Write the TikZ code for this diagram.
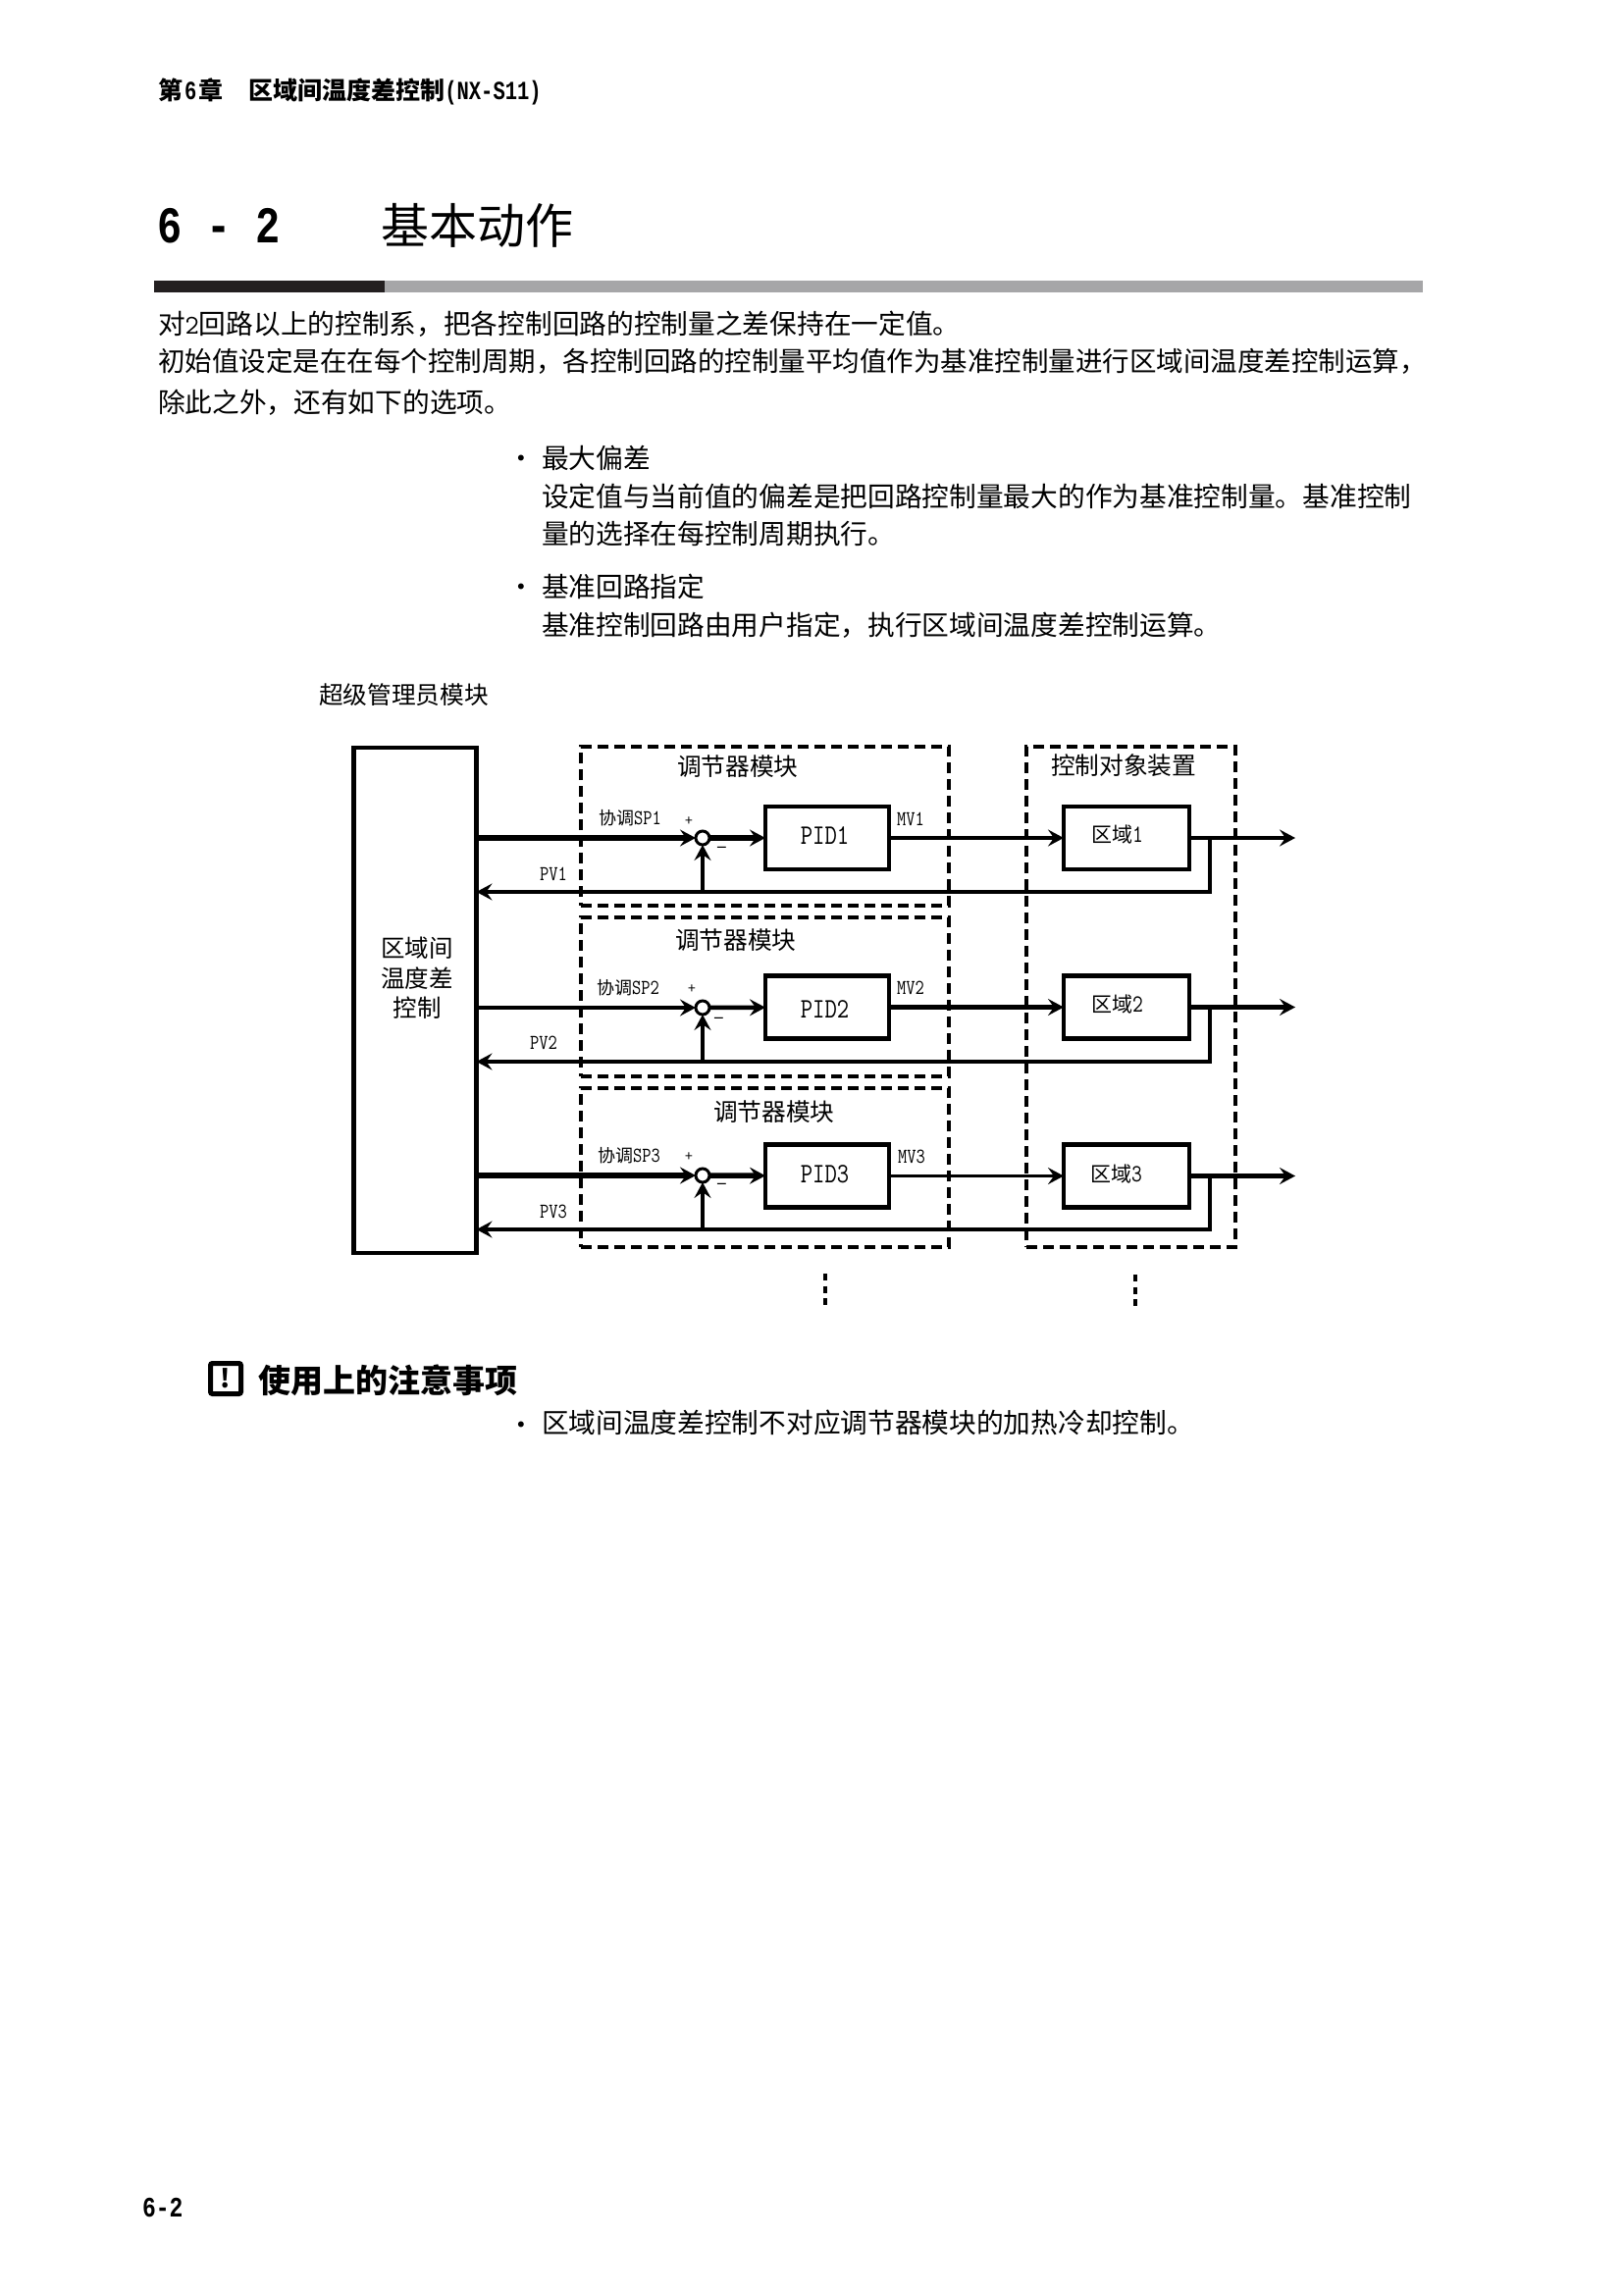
\documentclass[tikz,border=0pt]{standalone}
\usepackage{fontspec}
\setmainfont{Noto Sans CJK SC}
\newfontfamily\latb{Liberation Mono}[BoldFont={Liberation Mono Bold}]
\usetikzlibrary{arrows.meta}
\newcommand{\Lat}[1]{\scalebox{1}[1.2]{\ttfamily #1}}
\newcommand{\Latb}[1]{\scalebox{1}[1.3]{\latb\bfseries\fontsize{20.5}{25}\selectfont #1}}
\definecolor{bardark}{HTML}{231F20}
\definecolor{bargray}{HTML}{A6A6A8}
\tikzset{
  fs/.style={font=\fontsize{#1}{#1}\selectfont, inner sep=0pt, outer sep=0pt,
    /utils/exec={\pgfmathsetmacro\myht{0.88*#1}\pgfmathsetmacro\mydp{0.12*#1}},
    text height=\myht pt, text depth=\mydp pt},
  body/.style={fs=27.7, anchor=west},
  lab/.style={fs=24.7, anchor=west},
  sig/.style={fs=18, anchor=west},
  frame/.style={draw, line width=3.7pt, dash pattern=on 11pt off 6pt, inner sep=0pt, outer sep=0pt},
  block/.style={draw, fill=white, line width=4.5pt, inner sep=0pt, outer sep=0pt, minimum width=126pt, minimum height=64pt},
  sumnode/.style={draw, fill=white, circle, line width=3pt, inner sep=0pt, outer sep=0pt, minimum size=14pt},
  arrowtip/.style={-{Stealth[length=16pt,width=17pt,inset=6pt]}},
  wire/.style={line width=4.5pt, line join=miter},
  thin wire/.style={line width=3.6pt},
  thick wire/.style={line width=5.5pt},
  dotsmark/.style={line width=4pt, dash pattern=on 7pt off 5.5pt},
}
\begin{document}
\begin{tikzpicture}[x=1pt,y=-1pt]
\useasboundingbox (0,0) rectangle (1654,2339);
\fill[white] (0,0) rectangle (1654,2339);

% page header
\node[fs=25, anchor=west, font=\fontsize{25}{25}\selectfont\bfseries] (hdr) at (161,92)
  {第\hspace{2pt}\Latb{6}\hspace{2pt}章\hspace{26pt}区域间温度差控制\Latb{(NX-S11)}};
\node[fs=42, anchor=west] (secno) at (160,232) {\scalebox{1}[1.25]{\latb\bfseries 6 - 2}};
\node[fs=49, anchor=west] (sectitle) at (388,230) {基本动作};
\fill[bargray] (392,286) rectangle (1450,298);
\fill[bardark] (157,286) rectangle (392,298);

% body text
\node[body] (p1) at (161,330) {对{\ttfamily 2}回路以上的控制系，把各控制回路的控制量之差保持在一定值。};
\node[fs=27.5, anchor=west] (p2) at (161,368) {初始值设定是在在每个控制周期，各控制回路的控制量平均值作为基准控制量进行区域间温度差控制运算，};
\node[body] (p3) at (161,410) {除此之外，还有如下的选项。};
\node[body] (b1) at (517,467) {·};
\node[body] (p4) at (552,467) {最大偏差};
\node[body] (p5) at (552,506) {设定值与当前值的偏差是把回路控制量最大的作为基准控制量。基准控制};
\node[body] (p6) at (552,544) {量的选择在每控制周期执行。};
\node[body] (b2) at (517,598) {·};
\node[body] (p7) at (552,598) {基准回路指定};
\node[body] (p8) at (552,637) {基准控制回路由用户指定，执行区域间温度差控制运算。};

% diagram frames
\node[lab] (sup) at (325,708) {超级管理员模块};
\node[frame, minimum width=375pt, minimum height=162pt] (f1) at (779.5,842) {};
\node[frame, minimum width=375pt, minimum height=162pt] (f2) at (779.5,1016) {};
\node[frame, minimum width=375pt, minimum height=162pt] (f3) at (779.5,1190) {};
\node[frame, minimum width=213pt, minimum height=510pt] (dev) at (1152.5,1016) {};
\node[lab] (f1t) at (690,781) {调节器模块};
\node[lab] (f2t) at (688,958) {调节器模块};
\node[lab] (f3t) at (727,1133) {调节器模块};
\node[lab] (devt) at (1071,780) {控制对象装置};

% master block
\node[draw, fill=white, line width=4.2pt, inner sep=0pt, outer sep=0pt, minimum width=125pt, minimum height=515pt] (master) at (423,1019.5) {};
\node[inner sep=0pt, outer sep=0pt, align=center, font=\fontsize{24.5}{30.5}\selectfont] (mastert) at (425,997) {区域间\\温度差\\控制};

% blocks
\node[block] (pid1) at (843,854) {};
\node[block] (pid2) at (843,1026.5) {};
\node[block] (pid3) at (843,1198.5) {};
\node[block, minimum width=128pt] (zone1) at (1148,854) {};
\node[block, minimum width=128pt] (zone2) at (1148,1026.5) {};
\node[block, minimum width=128pt] (zone3) at (1148,1198.5) {};
\node[fs=24] (pid1t) at (840.5,851) {\Lat{PID1}};
\node[fs=24] (pid2t) at (840.5,1028) {\Lat{PID2}};
\node[fs=24] (pid3t) at (840.5,1196) {\Lat{PID3}};
\node[fs=21, anchor=west] (z1t) at (1112,851) {区域\Lat{1}};
\node[fs=21, anchor=west] (z2t) at (1112,1024) {区域\Lat{2}};
\node[fs=21, anchor=west] (z3t) at (1111,1197) {区域\Lat{3}};

% summing points
\node[sumnode] (s1) at (716,854) {};
\node[sumnode] (s2) at (716,1027) {};
\node[sumnode] (s3) at (716,1198) {};

% junctions and free ends
\coordinate (m1) at (master.east |- s1);
\coordinate (m2) at (master.east |- s2);
\coordinate (m3) at (master.east |- s3);
\coordinate (o1) at (1320,854);
\coordinate (o2) at (1320,1026.5);
\coordinate (o3) at (1320,1198.5);
\coordinate (j1) at (1233,854);
\coordinate (j2) at (1233,1026.5);
\coordinate (j3) at (1233,1198.5);
\coordinate (c1) at (1233,909);
\coordinate (c2) at (1233,1082);
\coordinate (c3) at (1233,1253);
\coordinate (r1) at (master.east |- c1);
\coordinate (r2) at (master.east |- c2);
\coordinate (r3) at (master.east |- c3);
\coordinate (t1) at (s1 |- c1);
\coordinate (t2) at (s2 |- c2);
\coordinate (t3) at (s3 |- c3);

% row 1
\draw[thick wire, arrowtip] (m1) -- (s1);
\draw[thick wire, arrowtip] (s1) -- (pid1);
\draw[wire, arrowtip] (pid1) -- (zone1);
\draw[wire, arrowtip] (zone1) -- (o1);
\draw[wire, arrowtip] (j1) -- (c1) -- (r1);
\draw[wire, arrowtip] (t1) -- (s1);
% row 2
\draw[wire, arrowtip] (m2) -- (s2);
\draw[wire, arrowtip] (s2) -- (pid2);
\draw[wire, arrowtip] (pid2) -- (zone2);
\draw[wire, arrowtip] (zone2) -- (o2);
\draw[wire, arrowtip] (j2) -- (c2) -- (r2);
\draw[wire, arrowtip] (t2) -- (s2);
% row 3
\draw[thick wire, arrowtip] (m3) -- (s3);
\draw[thick wire, arrowtip] (s3) -- (pid3);
\draw[thin wire, arrowtip] (pid3) -- (zone3);
\draw[thick wire, arrowtip] (zone3) -- (o3);
\draw[wire, arrowtip] (j3) -- (c3) -- (r3);
\draw[wire, arrowtip] (t3) -- (s3);

% signal labels
\node[sig] (sp1) at (610,834) {协调\Lat{SP1}};
\node[sig] (sp2) at (608,1007) {协调\Lat{SP2}};
\node[sig] (sp3) at (609,1178) {协调\Lat{SP3}};
\node[fs=14] (p1s) at (702,836) {+};
\node[fs=14] (p2s) at (705,1007) {+};
\node[fs=14] (p3s) at (702,1178) {+};
\node[fs=20] (m1s) at (736,862) {–};
\node[fs=20] (m2s) at (733,1036) {–};
\node[fs=20] (m3s) at (736,1205) {–};
\node[sig] (pv1) at (550,891) {\Lat{PV1}};
\node[sig] (pv2) at (540,1063) {\Lat{PV2}};
\node[sig] (pv3) at (550,1235) {\Lat{PV3}};
\node[sig] (mv1) at (914,835) {\Lat{MV1}};
\node[sig] (mv2) at (914,1007) {\Lat{MV2}};
\node[sig] (mv3) at (915,1179) {\Lat{MV3}};

% continuation marks
\coordinate (d1a) at (841,1298);
\coordinate (d1b) at (841,1331);
\coordinate (d2a) at (1157,1299);
\coordinate (d2b) at (1157,1332);
\draw[dotsmark] (d1a) -- (d1b);
\draw[dotsmark] (d2a) -- (d2b);

% notes
\node[draw, line width=5pt, rounded corners=2pt, inner sep=0pt, outer sep=0pt, minimum size=31pt, font=\fontsize{26}{26}\selectfont\bfseries] (icon) at (230,1405) {!};
\node[fs=33, anchor=west, font=\fontsize{33}{33}\selectfont\bfseries] (note) at (263,1407) {使用上的注意事项};
\node[body] (b3) at (517,1452) {·};
\node[body] (p9) at (552,1450) {区域间温度差控制不对应调节器模块的加热冷却控制。};

% page number
\node[fs=23, anchor=west, font=\fontsize{23}{23}\latb\bfseries] (pg) at (145,2251) {\scalebox{1}[1.25]{6-2}};
\end{tikzpicture}
\end{document}
